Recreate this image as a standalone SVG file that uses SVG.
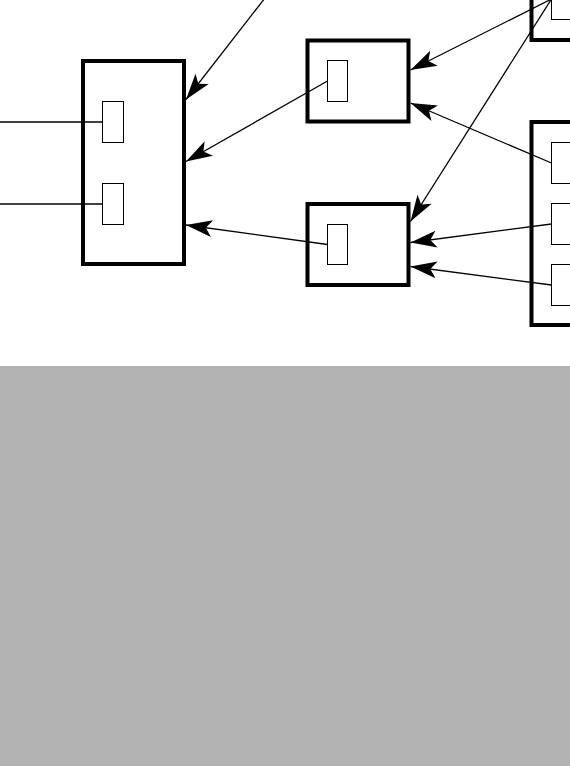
<svg xmlns="http://www.w3.org/2000/svg" width="570" height="766" viewBox="0 0 570 766">
<style>
.box{fill:#fff;stroke:#000;stroke-width:4}
.port{fill:#fff;stroke:#000;stroke-width:1}
.conn{fill:none;stroke:#000;stroke-width:1.3}
.arr{marker-end:url(#ah)}
</style>
<defs>
<marker id="ah" markerUnits="userSpaceOnUse" orient="auto" refX="0" refY="0" markerWidth="30" markerHeight="30" viewBox="-22 -8 24 16" overflow="visible">
<path d="M0,0 L-21,-6.7 L-16,0 L-21,6.7 Z" fill="#000" stroke="none"/>
</marker>
</defs>
<rect x="0" y="366" width="570" height="400" fill="#b3b3b3"/>
<g id="node-left">
<rect class="box" x="83" y="61" width="101" height="203"/>
<rect class="port" x="102.5" y="101.5" width="21" height="41"/>
<rect class="port" x="102.5" y="183.5" width="21" height="41"/>
</g>
<g id="node-mid-top">
<rect class="box" x="307.5" y="40.5" width="101" height="81"/>
<rect class="port" x="327.5" y="60.5" width="20" height="41"/>
</g>
<g id="node-mid-bottom">
<rect class="box" x="307.5" y="204" width="101" height="81"/>
<rect class="port" x="327.5" y="224.5" width="20" height="40"/>
</g>
<g id="node-right-top">
<rect class="box" x="531.5" y="-163" width="101" height="203"/>
<rect class="port" x="551.5" y="-21.5" width="21" height="41"/>
</g>
<g id="node-right-bottom">
<rect class="box" x="531.5" y="122" width="101" height="203"/>
<rect class="port" x="551.5" y="142.5" width="21" height="41"/>
<rect class="port" x="551.5" y="203.5" width="21" height="41"/>
<rect class="port" x="551.5" y="264.5" width="21" height="41"/>
</g>
<g id="connectors">
<line class="conn" x1="0" y1="122" x2="102.5" y2="122"/>
<line class="conn" x1="0" y1="204" x2="102.5" y2="204"/>
<line class="conn arr" x1="279" y1="-20" x2="186" y2="99.5"/>
<line class="conn arr" x1="327.5" y1="81" x2="186" y2="161.5"/>
<line class="conn arr" x1="327.5" y1="244.5" x2="186" y2="225"/>
<line class="conn arr" x1="551.5" y1="-1" x2="410.5" y2="70"/>
<line class="conn arr" x1="551.5" y1="-1" x2="410.5" y2="221.5"/>
<line class="conn arr" x1="551.5" y1="163" x2="410.5" y2="103"/>
<line class="conn arr" x1="551.5" y1="224" x2="410.5" y2="242.5"/>
<line class="conn arr" x1="551.5" y1="285" x2="410.5" y2="266.5"/>
</g>
</svg>
